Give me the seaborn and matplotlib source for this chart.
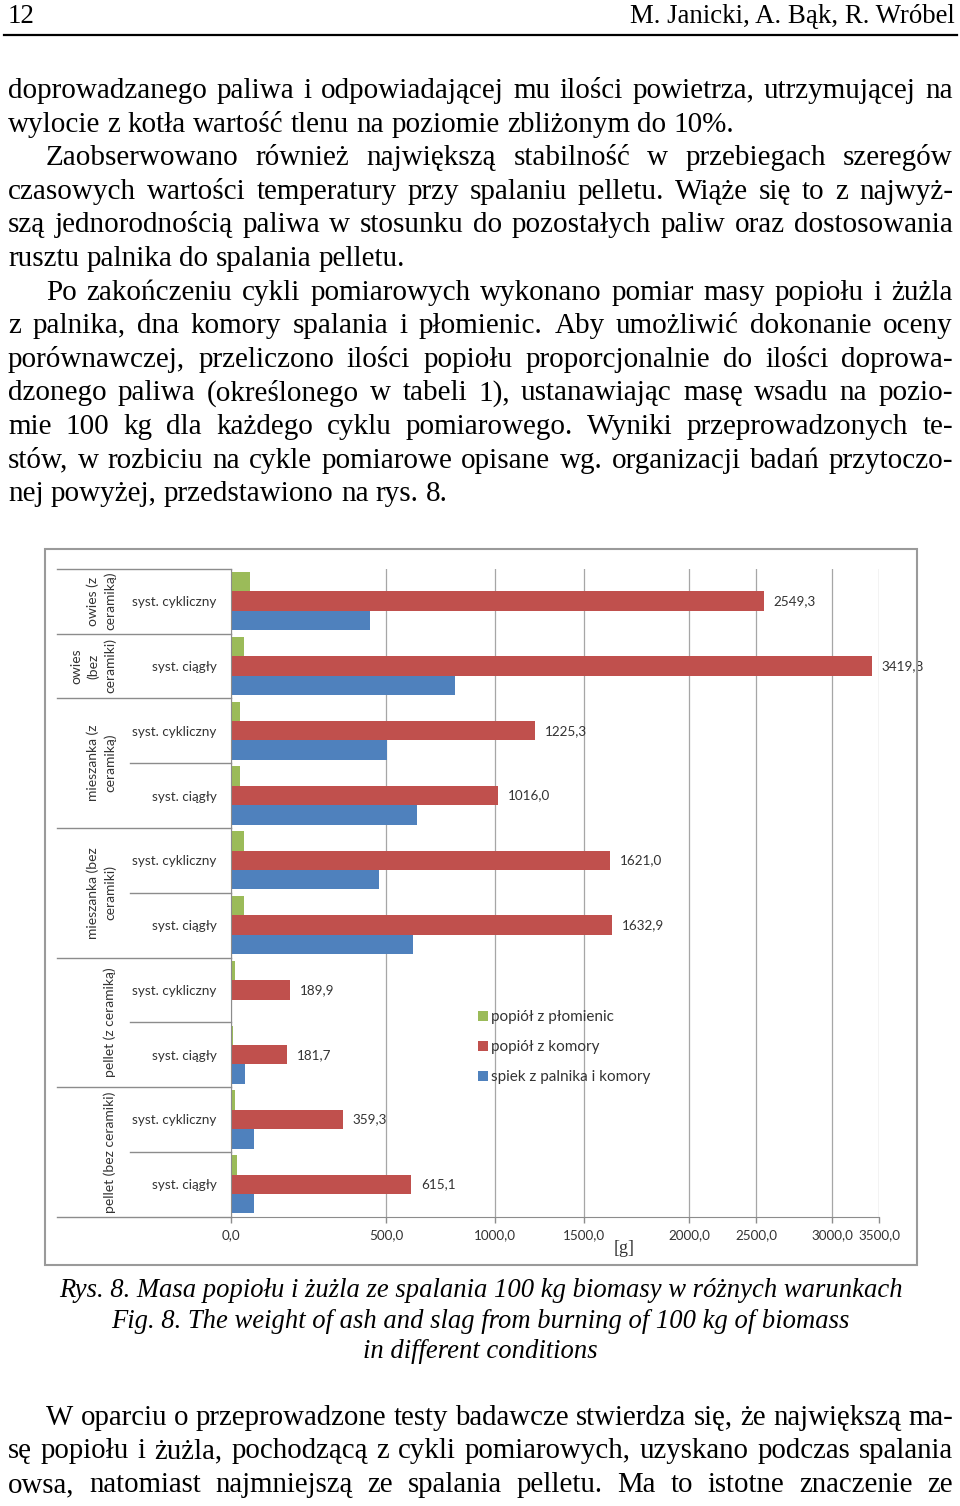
import numpy as np
import pandas as pd
import matplotlib
matplotlib.use("Agg")
import matplotlib.pyplot as plt
import matplotlib.transforms as mtransforms
from matplotlib.patches import Rectangle
from matplotlib.lines import Line2D
import seaborn as sns

# dane z rys. 8 (masa w g na 100 kg biomasy)
fuels = ["owies (z ceramiką)", "owies (bez ceramiki)",
         "mieszanka (z ceramiką)", "mieszanka (z ceramiką)",
         "mieszanka (bez ceramiki)", "mieszanka (bez ceramiki)",
         "pellet (z ceramiką)", "pellet (z ceramiką)",
         "pellet (bez ceramiki)", "pellet (bez ceramiki)"]
systems = ["syst. cykliczny", "syst. ciągły",
           "syst. cykliczny", "syst. ciągły",
           "syst. cykliczny", "syst. ciągły",
           "syst. cykliczny", "syst. ciągły",
           "syst. cykliczny", "syst. ciągły"]
popiol_plomienic = [60, 41, 30, 28, 41, 41, 12, 5, 12, 19]
popiol_komory = [2549.3, 3419.8, 1225.3, 1016.0, 1621.0, 1632.9, 189.9, 181.7, 359.3, 615.1]
spiek = [448, 817, 505, 643, 475, 621, 0, 45, 74, 74]
series_names = ["popiół z płomienic", "popiół z komory", "spiek z palnika i komory"]
series_colors = ["#9BBB59", "#C0504D", "#4F81BD"]
x_ticks = [0, 500, 1000, 1500, 2000, 2500, 3000, 3500]

# podpisy grup w kilku wierszach jak na rysunku
fuel_labels = {
    "owies (z ceramiką)": "owies (z\nceramiką)",
    "owies (bez ceramiki)": "owies\n(bez\nceramiki)",
    "mieszanka (z ceramiką)": "mieszanka (z\nceramiką)",
    "mieszanka (bez ceramiki)": "mieszanka (bez\nceramiki)",
    "pellet (z ceramiką)": "pellet (z ceramiką)",
    "pellet (bez ceramiki)": "pellet (bez ceramiki)",
}

cats = [f"{f} | {s}" for f, s in zip(fuels, systems)]
rows = []
for name, vals in zip(series_names, [popiol_plomienic, popiol_komory, spiek]):
    for c, v in zip(cats, vals):
        rows.append({"kat": c, "seria": name, "masa": v})
df = pd.DataFrame(rows)

W, H = 960, 1506
fig = plt.figure(figsize=(W / 100, H / 100), dpi=100)
plt.rcParams['font.family'] = ['Lato', 'DejaVu Sans']


def fx(px):
    return px / W


def fy(py):
    return 1 - py / H


GRAY = "#8c8c8c"
TXT = "#333333"
FS = 9.7

ax_left, ax_right, ax_top, ax_bottom = 231, 879.3, 568.7, 1216.7
ax = fig.add_axes([fx(ax_left), fy(ax_bottom), (ax_right - ax_left) / W, (ax_bottom - ax_top) / H])

# os x na rysunku nie jest liniowa - skala odcinkami liniowa wg polozenia podzialki
tick_px = [0, 155.3, 264.0, 353.3, 458.3, 525.3, 601.0, 648.3]


def fwd(v):
    v = np.asarray(v, float)
    out = np.interp(v, x_ticks, tick_px)
    lo = (tick_px[1] - tick_px[0]) / (x_ticks[1] - x_ticks[0])
    hi = (tick_px[-1] - tick_px[-2]) / (x_ticks[-1] - x_ticks[-2])
    out = np.where(v < x_ticks[0], tick_px[0] + (v - x_ticks[0]) * lo, out)
    out = np.where(v > x_ticks[-1], tick_px[-1] + (v - x_ticks[-1]) * hi, out)
    return out


def inv(p):
    p = np.asarray(p, float)
    out = np.interp(p, tick_px, x_ticks)
    lo = (x_ticks[1] - x_ticks[0]) / (tick_px[1] - tick_px[0])
    hi = (x_ticks[-1] - x_ticks[-2]) / (tick_px[-1] - tick_px[-2])
    out = np.where(p < tick_px[0], x_ticks[0] + (p - tick_px[0]) * lo, out)
    out = np.where(p > tick_px[-1], x_ticks[-1] + (p - tick_px[-1]) * hi, out)
    return out


ax.set_xscale('function', functions=(fwd, inv))

sns.barplot(data=df, x="masa", y="kat", hue="seria", hue_order=series_names,
            palette=series_colors, saturation=1, orient="h", width=0.9,
            errorbar=None, linewidth=0, ax=ax)

ax.set_xlim(0, 3500)
ax.set_xticks(x_ticks)
ax.set_xticklabels([f"{v:.1f}".replace(".", ",") for v in x_ticks])
ax.set_yticks(range(len(cats)))
ax.set_yticklabels(systems)
ax.set_ylim(len(cats) - 0.5, -0.5)
ax.tick_params(axis="y", length=0, pad=10.5, labelsize=FS, labelcolor=TXT)
ax.tick_params(axis="x", length=4, width=1, color=GRAY, pad=5, labelsize=FS, labelcolor=TXT)
ax.grid(axis="x", color="#a6a6a6", lw=0.9)
ax.set_axisbelow(True)
for s in ["top", "right"]:
    ax.spines[s].set_visible(False)
for s in ["left", "bottom"]:
    ax.spines[s].set_color(GRAY)
ax.set_ylabel("")
ax.set_xlabel("[g]", family="Liberation Serif", fontsize=13, color=TXT)
ax.xaxis.set_label_coords((624 - ax_left) / (ax_right - ax_left), -(1240 - ax_bottom) / (ax_bottom - ax_top))

# etykiety danych przy slupkach popiolu z komory
ax.bar_label(ax.containers[1], labels=[f"{v:.1f}".replace(".", ",") for v in popiol_komory],
             padding=7, fontsize=FS, color=TXT)

sns.move_legend(ax, "upper left",
                bbox_to_anchor=((478 - ax_left) / (ax_right - ax_left), (ax_bottom - 1010) / (ax_bottom - ax_top)),
                title=None, frameon=False, fontsize=11, labelcolor=TXT,
                handlelength=0.65, handleheight=0.65, handletextpad=0.2,
                labelspacing=1.05, borderpad=0, borderaxespad=0)

# tabela podpisow kategorii po lewej stronie osi
trans = mtransforms.blended_transform_factory(fig.transFigure, ax.transData)
n = len(cats)
group_bounds = [-0.5, n - 0.5] + [i - 0.5 for i in range(1, n) if fuels[i] != fuels[i - 1]]
inner_bounds = [i - 0.5 for i in range(1, n) if fuels[i] == fuels[i - 1]]
for b in group_bounds:
    ax.plot([fx(57), fx(ax_left)], [b, b], transform=trans, clip_on=False, color=GRAY, lw=1)
for b in inner_bounds:
    ax.plot([fx(130), fx(ax_left)], [b, b], transform=trans, clip_on=False, color=GRAY, lw=1)
start = 0
for i in range(1, n + 1):
    if i == n or fuels[i] != fuels[start]:
        ax.text(fx(116), (start + i - 1) / 2, fuel_labels[fuels[start]], transform=trans,
                rotation=90, ha="right", va="center", multialignment="center",
                linespacing=1.4, fontsize=10, color=TXT)
        start = i
ax.set_ylim(len(cats) - 0.5, -0.5)

fig.add_artist(Rectangle((fx(45), fy(1265)), (917 - 45) / W, (1265 - 549) / H,
                         transform=fig.transFigure, fill=False, ec="#9a9a9a", lw=1.5))

# tekst strony
SERIF = "Liberation Serif"
rend = fig.canvas.get_renderer()


def text_width(s, size, style="normal"):
    t = fig.text(0, 0, s, fontsize=size, family=SERIF, style=style)
    w = t.get_window_extent(renderer=rend).width
    t.remove()
    return w


def fit_size(lines, x1, size, style="normal"):
    best = size
    for s, x0, just in lines:
        if just:
            best = min(best, size * (x1 - x0) / text_width(s, size, style))
    return best


def put_line(s, y, x0, x1, size, style="normal", justify=True):
    words = s.split()
    arts = [fig.text(0, fy(y), w, fontsize=size, family=SERIF, style=style,
                     va="baseline", color="black") for w in words]
    widths = [a.get_window_extent(renderer=rend).width for a in arts]
    if justify and len(words) > 1:
        gap = (x1 - x0 - sum(widths)) / (len(words) - 1)
    else:
        gap = text_width("a a", size, style) - text_width("aa", size, style)
    x = x0
    for a, w in zip(arts, widths):
        a.set_x(fx(x))
        x += w + gap


fig.text(fx(8), fy(23), "12", fontsize=19.4, family=SERIF, va="baseline")
fig.text(fx(955), fy(23), "M. Janicki, A. Bąk, R. Wróbel", fontsize=19.4, family=SERIF,
         va="baseline", ha="right")
fig.add_artist(Line2D([fx(4), fx(957)], [fy(34.5), fy(34.5)], lw=1.6, color="black",
                      transform=fig.transFigure))

top_par = [
    ("doprowadzanego paliwa i odpowiadającej mu ilości powietrza, utrzymującej na", 8, True),
    ("wylocie z kotła wartość tlenu na poziomie zbliżonym do 10%.", 8, False),
    ("Zaobserwowano również największą stabilność w przebiegach szeregów", 46, True),
    ("czasowych wartości temperatury przy spalaniu pelletu. Wiąże się to z najwyż-", 8, True),
    ("szą jednorodnością paliwa w stosunku do pozostałych paliw oraz dostosowania", 8, True),
    ("rusztu palnika do spalania pelletu.", 8, False),
    ("Po zakończeniu cykli pomiarowych wykonano pomiar masy popiołu i żużla", 46, True),
    ("z palnika, dna komory spalania i płomienic. Aby umożliwić dokonanie oceny", 8, True),
    ("porównawczej, przeliczono ilości popiołu proporcjonalnie do ilości doprowa-", 8, True),
    ("dzonego paliwa (określonego w tabeli 1), ustanawiając masę wsadu na pozio-", 8, True),
    ("mie 100 kg dla każdego cyklu pomiarowego. Wyniki przeprowadzonych te-", 8, True),
    ("stów, w rozbiciu na cykle pomiarowe opisane wg. organizacji badań przytoczo-", 8, True),
    ("nej powyżej, przedstawiono na rys. 8.", 8, False),
]
size_top = fit_size(top_par, 953, 21)
for i, (s, x0, just) in enumerate(top_par):
    put_line(s, 98 + i * 33.6, x0, 953, size_top, justify=just)

caption = ["Rys. 8. Masa popiołu i żużla ze spalania 100 kg biomasy w różnych warunkach",
           "Fig. 8. The weight of ash and slag from burning of 100 kg of biomass",
           "in different conditions"]
cap_size = 20 * 843 / text_width(caption[0], 20, "italic")
for s, y in zip(caption, [1297, 1328, 1358]):
    fig.text(fx(480.5), fy(y), s, fontsize=cap_size, family=SERIF, style="italic",
             ha="center", va="baseline")

bottom_par = [
    ("W oparciu o przeprowadzone testy badawcze stwierdza się, że największą ma-", 46, True),
    ("sę popiołu i żużla, pochodzącą z cykli pomiarowych, uzyskano podczas spalania", 8, True),
    ("owsa, natomiast najmniejszą ze spalania pelletu. Ma to istotne znaczenie ze", 8, True),
]
size_bot = fit_size(bottom_par, 953, 21)
for i, (s, x0, just) in enumerate(bottom_par):
    put_line(s, 1425 + i * 33.5, x0, 953, size_bot, justify=just)

plt.savefig("out.png", dpi=100)
